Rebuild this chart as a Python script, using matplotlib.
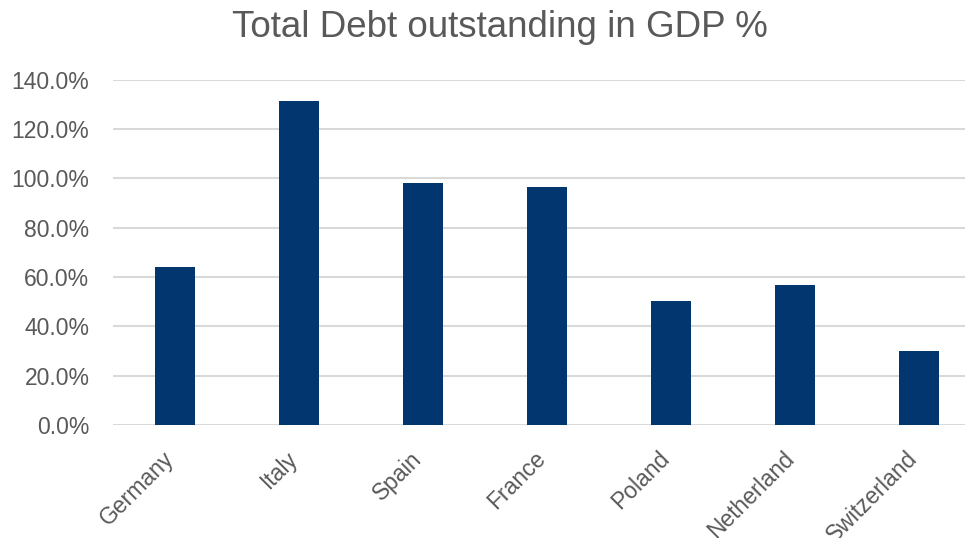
import matplotlib
matplotlib.use("Agg")
import matplotlib.pyplot as plt
from matplotlib.ticker import PercentFormatter

countries = ["Germany", "Italy", "Spain", "France", "Poland", "Netherland", "Switzerland"]
debt_pct = [64.1, 131.2, 98.0, 96.4, 50.2, 56.7, 30.1]
y_ticks = [0, 20, 40, 60, 80, 100, 120, 140]

TEXT = "#595959"
BAR = "#02366F"
GRID = "#D9D9D9"

plt.rcParams["font.family"] = ["Liberation Sans", "DejaVu Sans"]

fig = plt.figure(figsize=(9.65, 5.38), dpi=100)
# plot area runs slightly past the right edge, as in the source
ax = fig.add_axes([113 / 965, 113 / 538, 868 / 965, 345.5 / 538])

ax.bar(range(len(countries)), debt_pct, width=0.32, color=BAR, zorder=3)

ax.set_xlim(-0.5, len(countries) - 0.5)
ax.set_ylim(0, 140)
ax.set_yticks(y_ticks)
ax.yaxis.set_major_formatter(PercentFormatter(decimals=1))
ax.grid(axis="y", color=GRID, lw=1.5, zorder=0)
ax.set_axisbelow(True)
for s in ax.spines.values():
    s.set_visible(False)

ax.tick_params(axis="y", length=0, pad=17, labelsize=16.5, labelcolor=TEXT)
ax.tick_params(axis="x", length=0, pad=25, labelsize=16.5, labelcolor=TEXT)
ax.set_xticks(range(len(countries)))
ax.set_xticklabels(countries, rotation=45, ha="right", va="baseline",
                   rotation_mode="anchor")

fig.text(500 / 965, 1 - 28 / 538, "Total Debt outstanding in GDP %",
         ha="center", va="center", fontsize=26.5, color=TEXT)

fig.savefig("out.png", dpi=100)
